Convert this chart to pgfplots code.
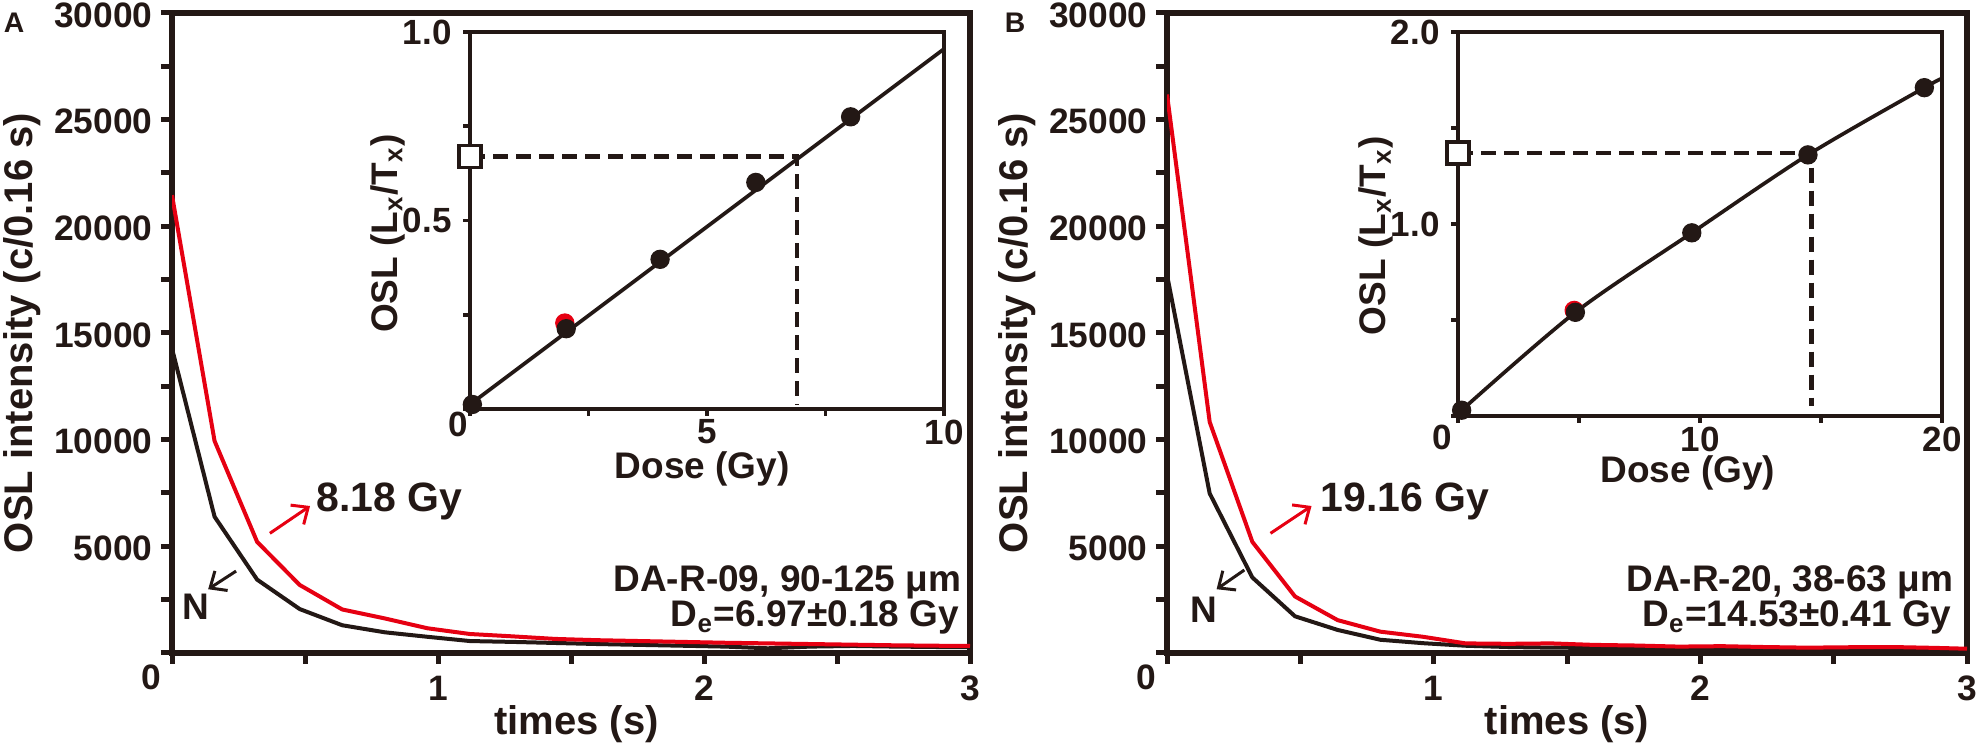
\documentclass[border=0pt]{standalone}
\usepackage{fontspec}
\setmainfont{Liberation Sans}
\usepackage{pgfplots}
\pgfplotsset{compat=1.18}
\usetikzlibrary{arrows.meta}
\definecolor{ink}{RGB}{35,24,21}
\definecolor{myred}{RGB}{230,0,18}

\pgfplotstableread{
t     n      r
0.00  14270  21460
0.16  6390   9940
0.32  3440   5210
0.48  2060   3190
0.64  1300   2040
0.80  970    1620
0.96  760    1160
1.12  560    890
1.28  520    780
1.44  470    660
1.60  420    600
1.76  380    560
1.92  340    520
2.08  300    480
2.24  220    450
2.40  300    420
2.56  330    390
2.72  300    360
2.88  280    340
3.00  270    330
}\decayA

\pgfplotstableread{
t     n      r
0.00  17720  26180
0.16  7480   10830
0.32  3540   5210
0.48  1720   2650
0.64  1080   1540
0.80  620    1000
0.96  460    760
1.12  340    450
1.28  280    430
1.44  250    450
1.60  240    380
1.76  230    350
1.92  220    300
2.08  220    320
2.24  210    280
2.40  200    250
2.56  210    270
2.72  200    280
2.88  190    240
3.00  180    200
}\decayB

\tikzset{
  annot/.style={font=\fontsize{11.1}{13}\selectfont\bfseries, text=ink, inner sep=0pt},
  gyl/.style={font=\fontsize{12.3}{14}\selectfont\bfseries, text=ink, inner sep=0pt},
}

\pgfplotsset{
  mainax/.style={
    scale only axis, width=239.4pt, height=192pt, anchor=south west,
    clip mode=individual,
    xmin=0, xmax=3, ymin=0, ymax=30000,
    xtick={0,1,2,3}, xticklabels={,1,2,3},
    ytick={0,5000,...,30000}, yticklabels={,5000,10000,15000,20000,25000,30000},
    minor x tick num=1, minor y tick num=1,
    tick align=outside, xtick pos=bottom, ytick pos=left,
    major tick length=3.3pt, minor tick length=3.3pt,
    tick style={line width=1.5pt, ink},
    axis line style={line width=1.8pt, ink},
    ticklabel style={font=\fontsize{10.6}{12}\selectfont\bfseries, text=ink},
    yticklabel style={inner ysep=0pt, inner xsep=2.4pt, yshift=-0.6pt},
    label style={font=\fontsize{12}{14}\selectfont\bfseries, text=ink},
    xlabel={times (s)}, ylabel={OSL intensity (c/0.16 s)},
    ylabel style={at={(axis description cs:-0.175,0.5)}, anchor=base},
  },
  inax/.style={
    scale only axis, anchor=south west, clip=false,
    axis background/.style={fill=white},
    ymin=0, xmin=0,
    minor x tick num=1, minor y tick num=1,
    tick align=outside, xtick pos=bottom, ytick pos=left,
    major tick length=2pt, minor tick length=2pt,
    tick style={line width=1.1pt, ink},
    axis line style={line width=1.2pt, ink},
    ticklabel style={font=\fontsize{10.5}{12}\selectfont\bfseries, text=ink},
    xticklabel style={inner sep=1pt},
    label style={font=\fontsize{11.1}{13}\selectfont\bfseries, text=ink},
    xlabel={Dose (Gy)}, ylabel={OSL (L\textsubscript{x}/T\textsubscript{x})},
  },
}

\begin{document}
\begin{tikzpicture}
\path[use as bounding box] (0,0) rectangle (593.4pt,224.4pt);

% ---------- Panel A main ----------
\begin{axis}[mainax, at={(51.6pt,28.5pt)},
  xlabel style={at={(axis description cs:0.507,-0.128)}, anchor=base}]
\addplot[ink, line width=1.2pt] table[x=t,y=n] {\decayA};
\addplot[myred, line width=1.2pt] table[x=t,y=r] {\decayA};
\node[gyl, anchor=base west] at (axis cs:0.54,6620) {8.18 Gy};
\draw[myred, line width=0.9pt, -{Straight Barb[length=4pt,width=7pt]}] (axis cs:0.368,5610) -- (axis cs:0.519,6890);
\node[annot, anchor=base west] at (axis cs:0.036,1550) {N};
\draw[ink, line width=0.9pt, -{Straight Barb[length=4pt,width=7pt]}] (axis cs:0.241,3840) -- (axis cs:0.136,2990);
\node[annot, anchor=base east] at (axis cs:2.969,2870) {DA-R-09, 90-125 μm};
\node[annot, anchor=base east] at (axis cs:2.962,1230) {D\textsubscript{e}=6.97±0.18 Gy};
\node[font=\fontsize{10.6}{12}\selectfont\bfseries, text=ink] at (rel axis cs:-0.026,-0.038) {0};
\node[font=\fontsize{8.5}{9}\selectfont\bfseries, text=ink] at (rel axis cs:-0.198,0.985) {A};
\end{axis}

% ---------- Panel A inset ----------
\begin{axis}[inax, at={(141pt,101.7pt)}, width=142.2pt, height=113.1pt,
  xmax=10, ymax=1,
  xtick={0,5,10}, xticklabels={,5,10},
  ytick={0,0.5,1}, yticklabels={,0.5,1.0},
  xlabel style={at={(axis description cs:0.49,-0.185)}, anchor=base},
  ylabel style={at={(axis description cs:-0.154,0.465)}, anchor=base}]
\addplot[ink, line width=1.1pt] coordinates {(0,0.012) (10,0.955)};
\addplot[ink, line width=1.3pt, dash pattern=on 4.5pt off 2.4pt] coordinates {(0,0.67) (6.9,0.67) (6.9,0.01)};
\addplot[only marks, mark=*, mark size=2.7pt, myred] coordinates {(2.0,0.228)};
\addplot[only marks, mark=*, mark size=2.7pt, ink] coordinates {(0.05,0.012) (2.03,0.213) (4.01,0.397) (6.03,0.601) (8.03,0.775)};
\addplot[only marks, mark=square*, mark size=3.3pt, mark options={fill=white, draw=ink, line width=1.1pt}] coordinates {(0,0.67)};
\node[font=\fontsize{10.5}{12}\selectfont\bfseries, text=ink] at (rel axis cs:-0.025,-0.04) {0};
\end{axis}

% ---------- Panel B main ----------
\begin{axis}[mainax, at={(350.1pt,28.5pt)}, width=240pt,
  xlabel style={at={(axis description cs:0.5,-0.128)}, anchor=base}]
\addplot[ink, line width=1.2pt] table[x=t,y=n] {\decayB};
\addplot[myred, line width=1.2pt] table[x=t,y=r] {\decayB};
\node[gyl, anchor=base west] at (axis cs:0.573,6620) {19.16 Gy};
\draw[myred, line width=0.9pt, -{Straight Barb[length=4pt,width=7pt]}] (axis cs:0.388,5610) -- (axis cs:0.542,6890);
\node[annot, anchor=base west] at (axis cs:0.086,1450) {N};
\draw[ink, line width=0.9pt, -{Straight Barb[length=4pt,width=7pt]}] (axis cs:0.290,3890) -- (axis cs:0.186,2990);
\node[annot, anchor=base east] at (axis cs:2.951,2870) {DA-R-20, 38-63 μm};
\node[annot, anchor=base east] at (axis cs:2.944,1230) {D\textsubscript{e}=14.53±0.41 Gy};
\node[font=\fontsize{10.6}{12}\selectfont\bfseries, text=ink] at (rel axis cs:-0.026,-0.038) {0};
\node[font=\fontsize{8.5}{9}\selectfont\bfseries, text=ink] at (rel axis cs:-0.19,0.985) {B};
\end{axis}

% ---------- Panel B inset ----------
\begin{axis}[inax, at={(437.4pt,99.6pt)}, width=145.2pt, height=115.2pt,
  xmax=20, ymax=2,
  xtick={0,10,20}, xticklabels={,10,20},
  ytick={0,1,2}, yticklabels={,1.0,2.0},
  xlabel style={at={(axis description cs:0.475,-0.172)}, anchor=base},
  ylabel style={at={(axis description cs:-0.15,0.469)}, anchor=base}]
\addplot[ink, line width=1.1pt, smooth] coordinates {(0.15,0.03) (4.85,0.54) (9.66,0.954) (14.46,1.36) (19.27,1.71) (20,1.757)};
\addplot[ink, line width=1.3pt, dash pattern=on 4.5pt off 2.4pt] coordinates {(0,1.37) (14.6,1.37) (14.6,0.05)};
\addplot[only marks, mark=*, mark size=2.7pt, myred] coordinates {(4.8,0.55)};
\addplot[only marks, mark=*, mark size=2.7pt, ink] coordinates {(0.15,0.03) (4.85,0.54) (9.66,0.954) (14.46,1.36) (19.27,1.71)};
\addplot[only marks, mark=square*, mark size=3.3pt, mark options={fill=white, draw=ink, line width=1.1pt}] coordinates {(0,1.37)};
\node[font=\fontsize{10.5}{12}\selectfont\bfseries, text=ink] at (rel axis cs:-0.033,-0.057) {0};
\end{axis}
\end{tikzpicture}
\end{document}
